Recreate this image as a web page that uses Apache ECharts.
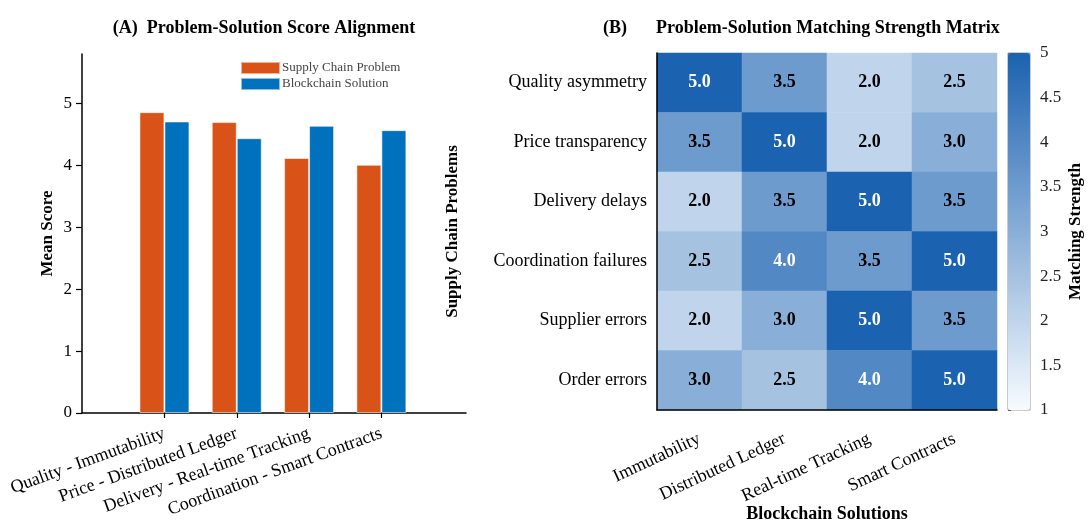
<!DOCTYPE html>
<html lang="en">
<head>
  <meta charset="UTF-8" />
  <title>Problem-Solution charts</title>
  <script src="https://cdn.jsdelivr.net/npm/echarts@6.0.0/dist/echarts.min.js"></script>
  <style>
    html, body { margin: 0; padding: 0; background: #fff; }
    #chart { width: 1088px; height: 522px; }
  </style>
</head>
<body>
  <div id="chart"></div>
  <script>
    // panel A data
    var pairLabels = ["Quality - Immutability", "Price - Distributed Ledger", "Delivery - Real-time Tracking", "Coordination - Smart Contracts"];
    var problemScore = [4.86, 4.70, 4.12, 4.01];
    var solutionScore = [4.71, 4.44, 4.64, 4.57];
    var scoreTicks = [0, 1, 2, 3, 4, 5];

    // panel B data
    var solutions = ["Immutability", "Distributed Ledger", "Real-time Tracking", "Smart Contracts"];
    var problems = ["Quality asymmetry", "Price transparency", "Delivery delays", "Coordination failures", "Supplier errors", "Order errors"];
    var matchQuality = [5.0, 3.5, 2.0, 2.5];
    var matchPrice = [3.5, 5.0, 2.0, 3.0];
    var matchDelivery = [2.0, 3.5, 5.0, 3.5];
    var matchCoord = [2.5, 4.0, 3.5, 5.0];
    var matchSupplier = [2.0, 3.0, 5.0, 3.5];
    var matchOrder = [3.0, 2.5, 4.0, 5.0];
    var matrix = [matchQuality, matchPrice, matchDelivery, matchCoord, matchSupplier, matchOrder];

    var FONT = "Liberation Serif";

    var heatData = [];
    matrix.forEach(function (row, r) {
      row.forEach(function (v, c) {
        heatData.push({ value: [c, r, v], label: { color: v > 3.5 ? "#fff" : "#000" } });
      });
    });

    var chart = echarts.init(document.getElementById("chart"));
    chart.setOption({
      animation: false,
      textStyle: { fontFamily: FONT },
      title: [
        { text: "(A)  Problem-Solution Score Alignment", left: 259, top: 14, textAlign: "center",
          textStyle: { fontFamily: FONT, fontSize: 18, fontWeight: "bold", color: "#000" } },
        { text: "(B)", left: 598, top: 14,
          textStyle: { fontFamily: FONT, fontSize: 18, fontWeight: "bold", color: "#000" } },
        { text: "Problem-Solution Matching Strength Matrix", left: 651, top: 14,
          textStyle: { fontFamily: FONT, fontSize: 18, fontWeight: "bold", color: "#000" } }
      ],
      legend: {
        data: ["Supply Chain Problem", "Blockchain Solution"],
        orient: "vertical",
        left: 240, top: 61,
        itemWidth: 39, itemHeight: 12, itemGap: 2,
        icon: "rect",
        padding: 0,
        textStyle: { fontFamily: FONT, fontSize: 13, color: "#444", padding: [0, 0, 0, -3] }
      },
      grid: [
        { left: 82, width: 384, top: 54, height: 359, outerBoundsMode: "none" },
        { left: 657, width: 340, top: 53, height: 357, outerBoundsMode: "none" },
        { left: 1008, width: 22, top: 53, height: 357, outerBoundsMode: "none",
          show: true, borderColor: "#999", borderWidth: 1, backgroundColor: "transparent" }
      ],
      xAxis: [
        {
          type: "value", gridIndex: 0, min: -1.14, max: 4.17,
          axisLine: { onZero: false, lineStyle: { color: "#000", width: 1.5 } },
          axisTick: { customValues: [0, 1, 2, 3], length: 5, lineStyle: { color: "#000", width: 1.2 } },
          axisLabel: {
            customValues: [0, 1, 2, 3], rotate: 20, margin: 20,
            fontFamily: FONT, fontSize: 18, color: "#000",
            formatter: function (v) { return pairLabels[v] || ""; }
          },
          splitLine: { show: false }
        },
        {
          type: "category", gridIndex: 1, data: solutions, z: 5,
          axisLine: { lineStyle: { color: "#000", width: 1.5 } },
          axisTick: { alignWithLabel: true, length: 5, lineStyle: { color: "#000", width: 1.2 } },
          axisLabel: { rotate: 25, margin: 28, fontFamily: FONT, fontSize: 18, color: "#000", interval: 0 },
          name: "Blockchain Solutions", nameLocation: "middle", nameGap: 95, nameMoveOverlap: false,
          nameTextStyle: { fontFamily: FONT, fontSize: 18, fontWeight: "bold", color: "#000" }
        },
        { type: "value", gridIndex: 2, show: false, min: 0, max: 1 }
      ],
      yAxis: [
        {
          type: "value", gridIndex: 0, min: 0, max: 5.8,
          axisLine: { show: true, onZero: false, lineStyle: { color: "#000", width: 1.5 } },
          axisTick: { show: true, customValues: scoreTicks, length: 6, lineStyle: { color: "#000", width: 1.2 } },
          axisLabel: { customValues: scoreTicks, margin: 10, fontFamily: FONT, fontSize: 17, color: "#000" },
          splitLine: { show: false },
          name: "Mean Score", nameLocation: "middle", nameGap: 26, nameMoveOverlap: false,
          nameTextStyle: { fontFamily: FONT, fontSize: 17, fontWeight: "bold", color: "#000" }
        },
        {
          type: "category", gridIndex: 1, data: problems, inverse: true, z: 5,
          axisLine: { lineStyle: { color: "#000", width: 1.5 } },
          axisTick: { alignWithLabel: true, length: 6, lineStyle: { color: "#000", width: 1.2 } },
          axisLabel: { margin: 10, fontFamily: FONT, fontSize: 18, color: "#000" },
          name: "Supply Chain Problems", nameLocation: "middle", nameGap: 196, nameMoveOverlap: false,
          nameTextStyle: { fontFamily: FONT, fontSize: 17, fontWeight: "bold", color: "#000" }
        },
        {
          type: "value", gridIndex: 2, position: "right", min: 1, max: 5, interval: 0.5,
          axisLine: { show: false },
          axisTick: { show: true, length: 3, lineStyle: { color: "#666" } },
          axisLabel: { margin: 10, fontFamily: FONT, fontSize: 17, color: "#222" },
          splitLine: { show: false },
          name: "Matching Strength", nameLocation: "middle", nameGap: 37, nameRotate: 90, nameMoveOverlap: false,
          nameTextStyle: { fontFamily: FONT, fontSize: 17, fontWeight: "bold", color: "#000" }
        }
      ],
      visualMap: {
        type: "continuous",
        seriesIndex: 2,
        dimension: 2,
        min: 1, max: 5,
        calculable: false,
        hoverLink: false,
        left: 1008, top: 53,
        itemWidth: 22, itemHeight: 357,
        padding: 0,
        text: null,
        inRange: { color: ["#f7fbff", "#1b62b0"] }
      },
      series: [
        {
          name: "Supply Chain Problem", type: "bar", xAxisIndex: 0, yAxisIndex: 0,
          barWidth: 25, barGap: "0%",
          itemStyle: { color: "#D95319", borderColor: "rgba(255,255,255,0.55)", borderWidth: 1 },
          data: problemScore.map(function (v, i) { return [i, v]; })
        },
        {
          name: "Blockchain Solution", type: "bar", xAxisIndex: 0, yAxisIndex: 0,
          barWidth: 25, barGap: "0%",
          itemStyle: { color: "#0072BD", borderColor: "rgba(255,255,255,0.55)", borderWidth: 1 },
          data: solutionScore.map(function (v, i) { return [i, v]; })
        },
        {
          name: "Matching", type: "heatmap", xAxisIndex: 1, yAxisIndex: 1,
          data: heatData,
          label: {
            show: true, fontFamily: FONT, fontSize: 18, fontWeight: "bold",
            formatter: function (p) { return p.value[2].toFixed(1); }
          }
        }
      ]
    });
  </script>
</body>
</html>
